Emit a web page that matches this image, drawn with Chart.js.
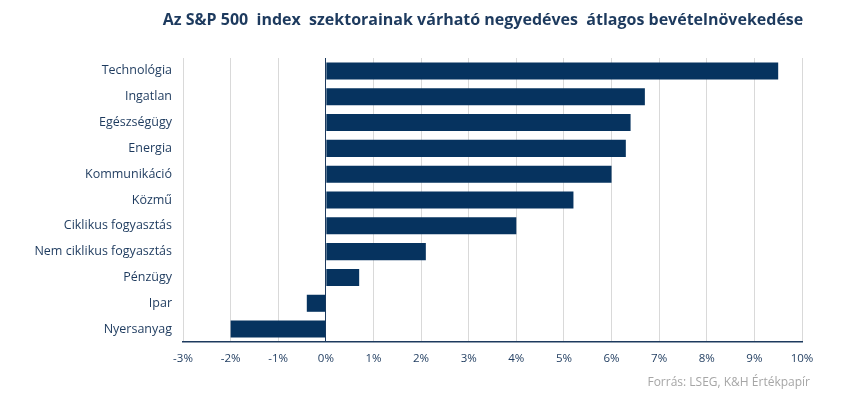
<!DOCTYPE html>
<html lang="hu">
<head>
<meta charset="utf-8">
<script src="https://cdn.jsdelivr.net/npm/chart.js@4/dist/chart.umd.min.js"></script>
<style>
  html, body { margin: 0; padding: 0; background: #fff; }
  #wrap { position: relative; width: 850px; height: 396px; }
</style>
</head>
<body>
<div id="wrap"><canvas id="chart"></canvas></div>
<script>
// Données
var TITLE = "Az S&P 500  index  szektorainak várható negyedéves  átlagos bevételnövekedése";
var SOURCE = "Forrás: LSEG, K&H Értékpapír";
var sectors = ["Technológia", "Ingatlan", "Egészségügy", "Energia", "Kommunikáció", "Közmű",
  "Ciklikus fogyasztás", "Nem ciklikus fogyasztás", "Pénzügy", "Ipar", "Nyersanyag"];
var growth = [9.5, 6.7, 6.4, 6.3, 6.0, 5.2, 4.0, 2.1, 0.7, -0.4, -2.0];
var axisMin = -3;
var axisMax = 10;

var navy = "#06335f";
var textCol = "#1d3a5e";
var gridCol = "#d9d9d9";
var fontFam = "'Open Sans', Lato, sans-serif";

// Titre et source dessinés à la main, centrés sur la zone du graphique
var textesPlugin = {
  id: "textes",
  afterDraw: function (chart) {
    var ctx = chart.ctx;
    ctx.save();
    ctx.fillStyle = textCol;
    ctx.font = "bold 16px " + fontFam;
    ctx.textAlign = "center";
    ctx.textBaseline = "middle";
    ctx.fillText(TITLE, 483, 20);
    ctx.fillStyle = "#a6a6a6";
    ctx.font = "12px " + fontFam;
    ctx.textAlign = "right";
    ctx.fillText(SOURCE, 810, 383);
    ctx.restore();
  },
};

Chart.defaults.font.family = fontFam;
Chart.defaults.color = textCol;

new Chart(document.getElementById("chart"), {
  type: "bar",
  data: {
    labels: sectors,
    datasets: [{
      data: growth,
      backgroundColor: navy,
      categoryPercentage: 1,
      barPercentage: 0.66,
    }],
  },
  options: {
    indexAxis: "y",
    responsive: true,
    maintainAspectRatio: false,
    animation: false,
    layout: { padding: { top: 58, right: 48, left: 0, bottom: 0 } },
    plugins: {
      legend: { display: false },
      tooltip: { enabled: false },
    },
    scales: {
      x: {
        min: axisMin,
        max: axisMax,
        ticks: {
          stepSize: 1,
          padding: 10,
          color: textCol,
          font: { size: 11.5 },
          callback: function (v) { return v + "%"; },
        },
        grid: {
          drawTicks: false,
          color: function (c) { return c.tick && c.tick.value === 0 ? textCol : gridCol; },
          lineWidth: 1,
        },
        border: { color: textCol, width: 1.5 },
        afterFit: function (s) { s.height = 54; },
      },
      y: {
        ticks: { padding: 11, color: textCol, font: { size: 12.5 } },
        grid: { display: false, drawTicks: false },
        border: { display: false },
        afterFit: function (s) { s.width = 183; },
      },
    },
  },
  plugins: [textesPlugin],
});
</script>
</body>
</html>
